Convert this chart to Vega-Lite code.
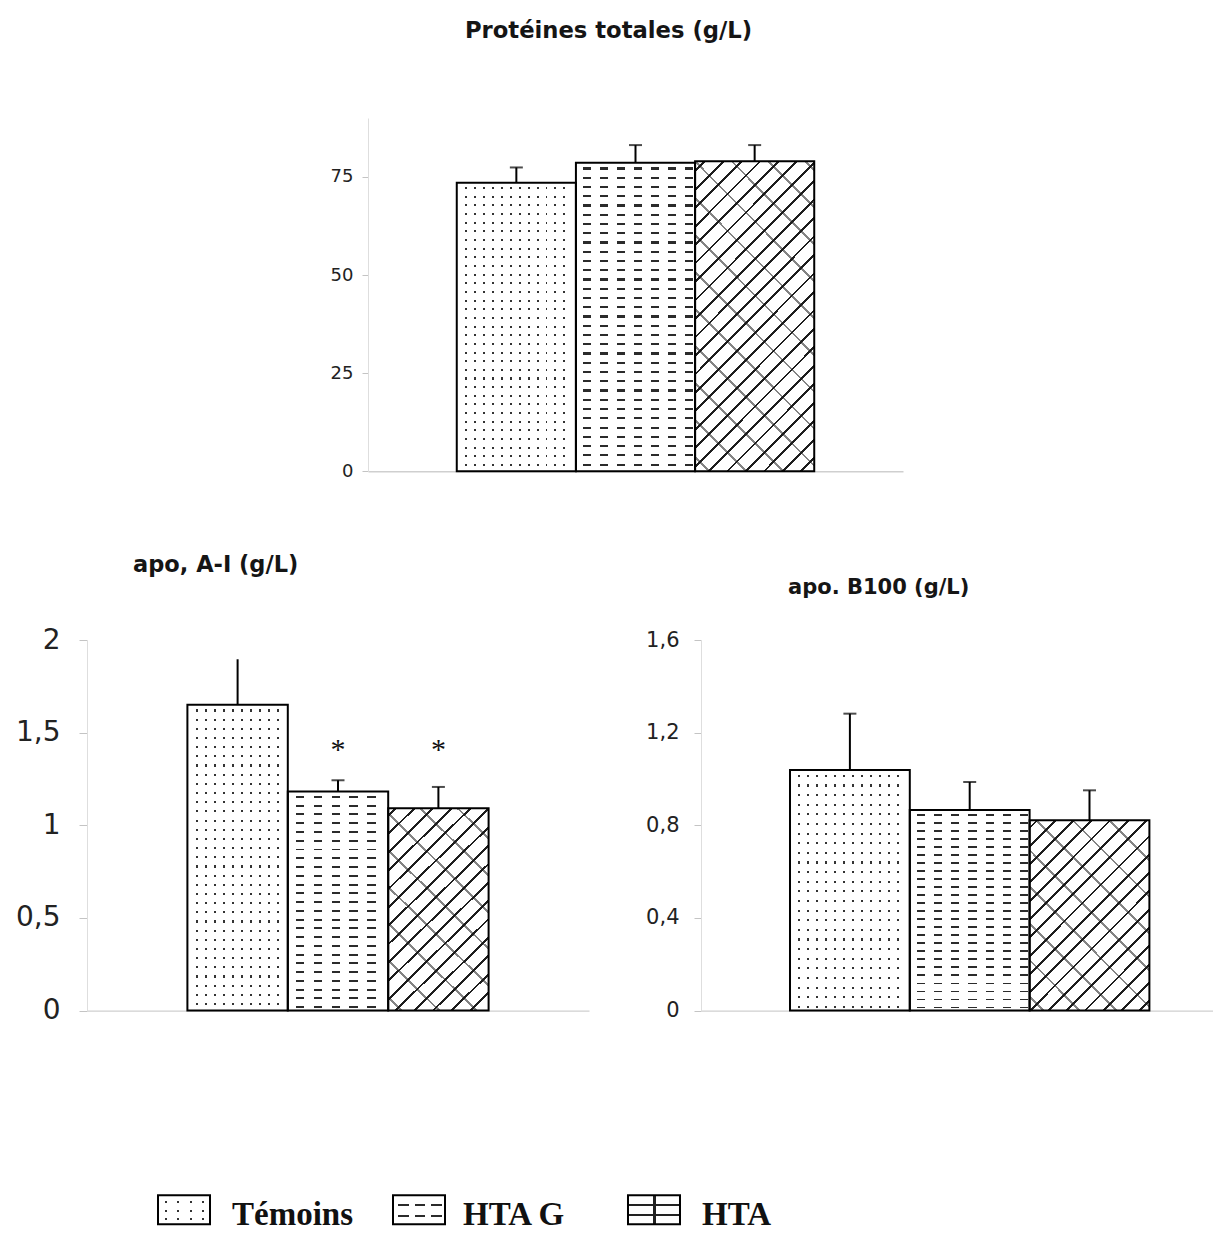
{
"$schema":"https://vega.github.io/schema/vega-lite/v6.json",
"background":"white",
"padding":{"left":15,"top":20,"right":0,"bottom":0},
"config":{"font":"DejaVu Sans","view":{"stroke":null}},
"params":[
{"name":"colT119","value":{"gradient":"linear","x1":0,"y1":0,"x2":1,"y2":0,"stops":[
{"offset":0,"color":"#fff"},
{"offset":0.07,"color":"#fff"},{"offset":0.07,"color":"#333"},{"offset":0.086,"color":"#333"},{"offset":0.086,"color":"#fff"},
{"offset":0.145,"color":"#fff"},{"offset":0.145,"color":"#333"},{"offset":0.161,"color":"#333"},{"offset":0.161,"color":"#fff"},
{"offset":0.22,"color":"#fff"},{"offset":0.22,"color":"#333"},{"offset":0.236,"color":"#333"},{"offset":0.236,"color":"#fff"},
{"offset":0.295,"color":"#fff"},{"offset":0.295,"color":"#333"},{"offset":0.311,"color":"#333"},{"offset":0.311,"color":"#fff"},
{"offset":0.37,"color":"#fff"},{"offset":0.37,"color":"#333"},{"offset":0.386,"color":"#333"},{"offset":0.386,"color":"#fff"},
{"offset":0.445,"color":"#fff"},{"offset":0.445,"color":"#333"},{"offset":0.461,"color":"#333"},{"offset":0.461,"color":"#fff"},
{"offset":0.52,"color":"#fff"},{"offset":0.52,"color":"#333"},{"offset":0.536,"color":"#333"},{"offset":0.536,"color":"#fff"},
{"offset":0.595,"color":"#fff"},{"offset":0.595,"color":"#333"},{"offset":0.611,"color":"#333"},{"offset":0.611,"color":"#fff"},
{"offset":0.67,"color":"#fff"},{"offset":0.67,"color":"#333"},{"offset":0.686,"color":"#333"},{"offset":0.686,"color":"#fff"},
{"offset":0.745,"color":"#fff"},{"offset":0.745,"color":"#333"},{"offset":0.761,"color":"#333"},{"offset":0.761,"color":"#fff"},
{"offset":0.82,"color":"#fff"},{"offset":0.82,"color":"#333"},{"offset":0.836,"color":"#333"},{"offset":0.836,"color":"#fff"},
{"offset":0.895,"color":"#fff"},{"offset":0.895,"color":"#333"},{"offset":0.911,"color":"#333"},{"offset":0.911,"color":"#fff"},
{"offset":1,"color":"#fff"}]}},
{"name":"colT99","value":{"gradient":"linear","x1":0,"y1":0,"x2":1,"y2":0,"stops":[
{"offset":0,"color":"#fff"},
{"offset":0.085,"color":"#fff"},{"offset":0.085,"color":"#333"},{"offset":0.104,"color":"#333"},{"offset":0.104,"color":"#fff"},
{"offset":0.175,"color":"#fff"},{"offset":0.175,"color":"#333"},{"offset":0.194,"color":"#333"},{"offset":0.194,"color":"#fff"},
{"offset":0.265,"color":"#fff"},{"offset":0.265,"color":"#333"},{"offset":0.284,"color":"#333"},{"offset":0.284,"color":"#fff"},
{"offset":0.355,"color":"#fff"},{"offset":0.355,"color":"#333"},{"offset":0.374,"color":"#333"},{"offset":0.374,"color":"#fff"},
{"offset":0.445,"color":"#fff"},{"offset":0.445,"color":"#333"},{"offset":0.464,"color":"#333"},{"offset":0.464,"color":"#fff"},
{"offset":0.535,"color":"#fff"},{"offset":0.535,"color":"#333"},{"offset":0.554,"color":"#333"},{"offset":0.554,"color":"#fff"},
{"offset":0.625,"color":"#fff"},{"offset":0.625,"color":"#333"},{"offset":0.644,"color":"#333"},{"offset":0.644,"color":"#fff"},
{"offset":0.715,"color":"#fff"},{"offset":0.715,"color":"#333"},{"offset":0.734,"color":"#333"},{"offset":0.734,"color":"#fff"},
{"offset":0.805,"color":"#fff"},{"offset":0.805,"color":"#333"},{"offset":0.824,"color":"#333"},{"offset":0.824,"color":"#fff"},
{"offset":0.895,"color":"#fff"},{"offset":0.895,"color":"#333"},{"offset":0.914,"color":"#333"},{"offset":0.914,"color":"#fff"},
{"offset":1,"color":"#fff"}]}},
{"name":"colG119","value":{"gradient":"linear","x1":0,"y1":0,"x2":1,"y2":0,"stops":[
{"offset":0,"color":"#fff"},
{"offset":0.06,"color":"#fff"},{"offset":0.06,"color":"#2b2b2b"},{"offset":0.128,"color":"#2b2b2b"},{"offset":0.128,"color":"#fff"},
{"offset":0.203,"color":"#fff"},{"offset":0.203,"color":"#2b2b2b"},{"offset":0.271,"color":"#2b2b2b"},{"offset":0.271,"color":"#fff"},
{"offset":0.346,"color":"#fff"},{"offset":0.346,"color":"#2b2b2b"},{"offset":0.414,"color":"#2b2b2b"},{"offset":0.414,"color":"#fff"},
{"offset":0.489,"color":"#fff"},{"offset":0.489,"color":"#2b2b2b"},{"offset":0.557,"color":"#2b2b2b"},{"offset":0.557,"color":"#fff"},
{"offset":0.632,"color":"#fff"},{"offset":0.632,"color":"#2b2b2b"},{"offset":0.7,"color":"#2b2b2b"},{"offset":0.7,"color":"#fff"},
{"offset":0.775,"color":"#fff"},{"offset":0.775,"color":"#2b2b2b"},{"offset":0.843,"color":"#2b2b2b"},{"offset":0.843,"color":"#fff"},
{"offset":0.918,"color":"#fff"},{"offset":0.918,"color":"#2b2b2b"},{"offset":0.986,"color":"#2b2b2b"},{"offset":0.986,"color":"#fff"},
{"offset":1,"color":"#fff"}]}},
{"name":"colG99","value":{"gradient":"linear","x1":0,"y1":0,"x2":1,"y2":0,"stops":[
{"offset":0,"color":"#fff"},
{"offset":0.08,"color":"#fff"},{"offset":0.08,"color":"#2b2b2b"},{"offset":0.162,"color":"#2b2b2b"},{"offset":0.162,"color":"#fff"},
{"offset":0.258,"color":"#fff"},{"offset":0.258,"color":"#2b2b2b"},{"offset":0.34,"color":"#2b2b2b"},{"offset":0.34,"color":"#fff"},
{"offset":0.436,"color":"#fff"},{"offset":0.436,"color":"#2b2b2b"},{"offset":0.518,"color":"#2b2b2b"},{"offset":0.518,"color":"#fff"},
{"offset":0.614,"color":"#fff"},{"offset":0.614,"color":"#2b2b2b"},{"offset":0.696,"color":"#2b2b2b"},{"offset":0.696,"color":"#fff"},
{"offset":0.792,"color":"#fff"},{"offset":0.792,"color":"#2b2b2b"},{"offset":0.874,"color":"#2b2b2b"},{"offset":0.874,"color":"#fff"},
{"offset":1,"color":"#fff"}]}},
{"name":"rows30","value":{"gradient":"linear","x1":0,"y1":0,"x2":0,"y2":1,"stops":[
{"offset":0,"color":"#fff"},
{"offset":0.015,"color":"#fff"},{"offset":0.015,"color":"transparent"},{"offset":0.022,"color":"transparent"},{"offset":0.022,"color":"#fff"},
{"offset":0.045,"color":"#fff"},{"offset":0.045,"color":"transparent"},{"offset":0.052,"color":"transparent"},{"offset":0.052,"color":"#fff"},
{"offset":0.075,"color":"#fff"},{"offset":0.075,"color":"transparent"},{"offset":0.082,"color":"transparent"},{"offset":0.082,"color":"#fff"},
{"offset":0.105,"color":"#fff"},{"offset":0.105,"color":"transparent"},{"offset":0.112,"color":"transparent"},{"offset":0.112,"color":"#fff"},
{"offset":0.135,"color":"#fff"},{"offset":0.135,"color":"transparent"},{"offset":0.142,"color":"transparent"},{"offset":0.142,"color":"#fff"},
{"offset":0.165,"color":"#fff"},{"offset":0.165,"color":"transparent"},{"offset":0.172,"color":"transparent"},{"offset":0.172,"color":"#fff"},
{"offset":0.195,"color":"#fff"},{"offset":0.195,"color":"transparent"},{"offset":0.202,"color":"transparent"},{"offset":0.202,"color":"#fff"},
{"offset":0.225,"color":"#fff"},{"offset":0.225,"color":"transparent"},{"offset":0.232,"color":"transparent"},{"offset":0.232,"color":"#fff"},
{"offset":0.255,"color":"#fff"},{"offset":0.255,"color":"transparent"},{"offset":0.262,"color":"transparent"},{"offset":0.262,"color":"#fff"},
{"offset":0.285,"color":"#fff"},{"offset":0.285,"color":"transparent"},{"offset":0.292,"color":"transparent"},{"offset":0.292,"color":"#fff"},
{"offset":0.315,"color":"#fff"},{"offset":0.315,"color":"transparent"},{"offset":0.322,"color":"transparent"},{"offset":0.322,"color":"#fff"},
{"offset":0.345,"color":"#fff"},{"offset":0.345,"color":"transparent"},{"offset":0.352,"color":"transparent"},{"offset":0.352,"color":"#fff"},
{"offset":0.375,"color":"#fff"},{"offset":0.375,"color":"transparent"},{"offset":0.382,"color":"transparent"},{"offset":0.382,"color":"#fff"},
{"offset":0.405,"color":"#fff"},{"offset":0.405,"color":"transparent"},{"offset":0.412,"color":"transparent"},{"offset":0.412,"color":"#fff"},
{"offset":0.435,"color":"#fff"},{"offset":0.435,"color":"transparent"},{"offset":0.442,"color":"transparent"},{"offset":0.442,"color":"#fff"},
{"offset":0.465,"color":"#fff"},{"offset":0.465,"color":"transparent"},{"offset":0.472,"color":"transparent"},{"offset":0.472,"color":"#fff"},
{"offset":0.495,"color":"#fff"},{"offset":0.495,"color":"transparent"},{"offset":0.502,"color":"transparent"},{"offset":0.502,"color":"#fff"},
{"offset":0.525,"color":"#fff"},{"offset":0.525,"color":"transparent"},{"offset":0.532,"color":"transparent"},{"offset":0.532,"color":"#fff"},
{"offset":0.555,"color":"#fff"},{"offset":0.555,"color":"transparent"},{"offset":0.562,"color":"transparent"},{"offset":0.562,"color":"#fff"},
{"offset":0.585,"color":"#fff"},{"offset":0.585,"color":"transparent"},{"offset":0.592,"color":"transparent"},{"offset":0.592,"color":"#fff"},
{"offset":0.615,"color":"#fff"},{"offset":0.615,"color":"transparent"},{"offset":0.622,"color":"transparent"},{"offset":0.622,"color":"#fff"},
{"offset":0.645,"color":"#fff"},{"offset":0.645,"color":"transparent"},{"offset":0.652,"color":"transparent"},{"offset":0.652,"color":"#fff"},
{"offset":0.675,"color":"#fff"},{"offset":0.675,"color":"transparent"},{"offset":0.682,"color":"transparent"},{"offset":0.682,"color":"#fff"},
{"offset":0.705,"color":"#fff"},{"offset":0.705,"color":"transparent"},{"offset":0.712,"color":"transparent"},{"offset":0.712,"color":"#fff"},
{"offset":0.735,"color":"#fff"},{"offset":0.735,"color":"transparent"},{"offset":0.742,"color":"transparent"},{"offset":0.742,"color":"#fff"},
{"offset":0.765,"color":"#fff"},{"offset":0.765,"color":"transparent"},{"offset":0.772,"color":"transparent"},{"offset":0.772,"color":"#fff"},
{"offset":0.795,"color":"#fff"},{"offset":0.795,"color":"transparent"},{"offset":0.802,"color":"transparent"},{"offset":0.802,"color":"#fff"},
{"offset":0.825,"color":"#fff"},{"offset":0.825,"color":"transparent"},{"offset":0.832,"color":"transparent"},{"offset":0.832,"color":"#fff"},
{"offset":0.855,"color":"#fff"},{"offset":0.855,"color":"transparent"},{"offset":0.862,"color":"transparent"},{"offset":0.862,"color":"#fff"},
{"offset":0.885,"color":"#fff"},{"offset":0.885,"color":"transparent"},{"offset":0.892,"color":"transparent"},{"offset":0.892,"color":"#fff"},
{"offset":0.915,"color":"#fff"},{"offset":0.915,"color":"transparent"},{"offset":0.922,"color":"transparent"},{"offset":0.922,"color":"#fff"},
{"offset":0.945,"color":"#fff"},{"offset":0.945,"color":"transparent"},{"offset":0.952,"color":"transparent"},{"offset":0.952,"color":"#fff"},
{"offset":0.975,"color":"#fff"},{"offset":0.975,"color":"transparent"},{"offset":0.982,"color":"transparent"},{"offset":0.982,"color":"#fff"},
{"offset":1,"color":"#fff"}]}},
{"name":"rows40","value":{"gradient":"linear","x1":0,"y1":0,"x2":0,"y2":1,"stops":[
{"offset":0,"color":"#fff"},
{"offset":0.02,"color":"#fff"},{"offset":0.02,"color":"transparent"},{"offset":0.029,"color":"transparent"},{"offset":0.029,"color":"#fff"},
{"offset":0.06,"color":"#fff"},{"offset":0.06,"color":"transparent"},{"offset":0.069,"color":"transparent"},{"offset":0.069,"color":"#fff"},
{"offset":0.1,"color":"#fff"},{"offset":0.1,"color":"transparent"},{"offset":0.109,"color":"transparent"},{"offset":0.109,"color":"#fff"},
{"offset":0.14,"color":"#fff"},{"offset":0.14,"color":"transparent"},{"offset":0.149,"color":"transparent"},{"offset":0.149,"color":"#fff"},
{"offset":0.18,"color":"#fff"},{"offset":0.18,"color":"transparent"},{"offset":0.189,"color":"transparent"},{"offset":0.189,"color":"#fff"},
{"offset":0.22,"color":"#fff"},{"offset":0.22,"color":"transparent"},{"offset":0.229,"color":"transparent"},{"offset":0.229,"color":"#fff"},
{"offset":0.26,"color":"#fff"},{"offset":0.26,"color":"transparent"},{"offset":0.269,"color":"transparent"},{"offset":0.269,"color":"#fff"},
{"offset":0.3,"color":"#fff"},{"offset":0.3,"color":"transparent"},{"offset":0.309,"color":"transparent"},{"offset":0.309,"color":"#fff"},
{"offset":0.34,"color":"#fff"},{"offset":0.34,"color":"transparent"},{"offset":0.349,"color":"transparent"},{"offset":0.349,"color":"#fff"},
{"offset":0.38,"color":"#fff"},{"offset":0.38,"color":"transparent"},{"offset":0.389,"color":"transparent"},{"offset":0.389,"color":"#fff"},
{"offset":0.42,"color":"#fff"},{"offset":0.42,"color":"transparent"},{"offset":0.429,"color":"transparent"},{"offset":0.429,"color":"#fff"},
{"offset":0.46,"color":"#fff"},{"offset":0.46,"color":"transparent"},{"offset":0.469,"color":"transparent"},{"offset":0.469,"color":"#fff"},
{"offset":0.5,"color":"#fff"},{"offset":0.5,"color":"transparent"},{"offset":0.509,"color":"transparent"},{"offset":0.509,"color":"#fff"},
{"offset":0.54,"color":"#fff"},{"offset":0.54,"color":"transparent"},{"offset":0.549,"color":"transparent"},{"offset":0.549,"color":"#fff"},
{"offset":0.58,"color":"#fff"},{"offset":0.58,"color":"transparent"},{"offset":0.589,"color":"transparent"},{"offset":0.589,"color":"#fff"},
{"offset":0.62,"color":"#fff"},{"offset":0.62,"color":"transparent"},{"offset":0.629,"color":"transparent"},{"offset":0.629,"color":"#fff"},
{"offset":0.66,"color":"#fff"},{"offset":0.66,"color":"transparent"},{"offset":0.669,"color":"transparent"},{"offset":0.669,"color":"#fff"},
{"offset":0.7,"color":"#fff"},{"offset":0.7,"color":"transparent"},{"offset":0.709,"color":"transparent"},{"offset":0.709,"color":"#fff"},
{"offset":0.74,"color":"#fff"},{"offset":0.74,"color":"transparent"},{"offset":0.749,"color":"transparent"},{"offset":0.749,"color":"#fff"},
{"offset":0.78,"color":"#fff"},{"offset":0.78,"color":"transparent"},{"offset":0.789,"color":"transparent"},{"offset":0.789,"color":"#fff"},
{"offset":0.82,"color":"#fff"},{"offset":0.82,"color":"transparent"},{"offset":0.829,"color":"transparent"},{"offset":0.829,"color":"#fff"},
{"offset":0.86,"color":"#fff"},{"offset":0.86,"color":"transparent"},{"offset":0.869,"color":"transparent"},{"offset":0.869,"color":"#fff"},
{"offset":0.9,"color":"#fff"},{"offset":0.9,"color":"transparent"},{"offset":0.909,"color":"transparent"},{"offset":0.909,"color":"#fff"},
{"offset":0.94,"color":"#fff"},{"offset":0.94,"color":"transparent"},{"offset":0.949,"color":"transparent"},{"offset":0.949,"color":"#fff"},
{"offset":0.98,"color":"#fff"},{"offset":0.98,"color":"transparent"},{"offset":0.989,"color":"transparent"},{"offset":0.989,"color":"#fff"},
{"offset":1,"color":"#fff"}]}},
{"name":"diagTop","value":{"gradient":"linear","x1":0,"y1":0,"x2":0.465,"y2":1.206,"stops":[
{"offset":0,"color":"#fff"},
{"offset":0.02,"color":"#fff"},{"offset":0.02,"color":"#1e1e1e"},{"offset":0.0265,"color":"#1e1e1e"},{"offset":0.0265,"color":"#fff"},
{"offset":0.063,"color":"#fff"},{"offset":0.063,"color":"#1e1e1e"},{"offset":0.0695,"color":"#1e1e1e"},{"offset":0.0695,"color":"#fff"},
{"offset":0.106,"color":"#fff"},{"offset":0.106,"color":"#1e1e1e"},{"offset":0.1125,"color":"#1e1e1e"},{"offset":0.1125,"color":"#fff"},
{"offset":0.149,"color":"#fff"},{"offset":0.149,"color":"#1e1e1e"},{"offset":0.1555,"color":"#1e1e1e"},{"offset":0.1555,"color":"#fff"},
{"offset":0.192,"color":"#fff"},{"offset":0.192,"color":"#1e1e1e"},{"offset":0.1985,"color":"#1e1e1e"},{"offset":0.1985,"color":"#fff"},
{"offset":0.235,"color":"#fff"},{"offset":0.235,"color":"#1e1e1e"},{"offset":0.2415,"color":"#1e1e1e"},{"offset":0.2415,"color":"#fff"},
{"offset":0.278,"color":"#fff"},{"offset":0.278,"color":"#1e1e1e"},{"offset":0.2845,"color":"#1e1e1e"},{"offset":0.2845,"color":"#fff"},
{"offset":0.321,"color":"#fff"},{"offset":0.321,"color":"#1e1e1e"},{"offset":0.3275,"color":"#1e1e1e"},{"offset":0.3275,"color":"#fff"},
{"offset":0.364,"color":"#fff"},{"offset":0.364,"color":"#1e1e1e"},{"offset":0.3705,"color":"#1e1e1e"},{"offset":0.3705,"color":"#fff"},
{"offset":0.407,"color":"#fff"},{"offset":0.407,"color":"#1e1e1e"},{"offset":0.4135,"color":"#1e1e1e"},{"offset":0.4135,"color":"#fff"},
{"offset":0.45,"color":"#fff"},{"offset":0.45,"color":"#1e1e1e"},{"offset":0.4565,"color":"#1e1e1e"},{"offset":0.4565,"color":"#fff"},
{"offset":0.493,"color":"#fff"},{"offset":0.493,"color":"#1e1e1e"},{"offset":0.4995,"color":"#1e1e1e"},{"offset":0.4995,"color":"#fff"},
{"offset":0.536,"color":"#fff"},{"offset":0.536,"color":"#1e1e1e"},{"offset":0.5425,"color":"#1e1e1e"},{"offset":0.5425,"color":"#fff"},
{"offset":0.579,"color":"#fff"},{"offset":0.579,"color":"#1e1e1e"},{"offset":0.5855,"color":"#1e1e1e"},{"offset":0.5855,"color":"#fff"},
{"offset":0.622,"color":"#fff"},{"offset":0.622,"color":"#1e1e1e"},{"offset":0.6285,"color":"#1e1e1e"},{"offset":0.6285,"color":"#fff"},
{"offset":0.665,"color":"#fff"},{"offset":0.665,"color":"#1e1e1e"},{"offset":0.6715,"color":"#1e1e1e"},{"offset":0.6715,"color":"#fff"},
{"offset":0.708,"color":"#fff"},{"offset":0.708,"color":"#1e1e1e"},{"offset":0.7145,"color":"#1e1e1e"},{"offset":0.7145,"color":"#fff"},
{"offset":0.751,"color":"#fff"},{"offset":0.751,"color":"#1e1e1e"},{"offset":0.7575,"color":"#1e1e1e"},{"offset":0.7575,"color":"#fff"},
{"offset":0.794,"color":"#fff"},{"offset":0.794,"color":"#1e1e1e"},{"offset":0.8005,"color":"#1e1e1e"},{"offset":0.8005,"color":"#fff"},
{"offset":0.837,"color":"#fff"},{"offset":0.837,"color":"#1e1e1e"},{"offset":0.8435,"color":"#1e1e1e"},{"offset":0.8435,"color":"#fff"},
{"offset":0.88,"color":"#fff"},{"offset":0.88,"color":"#1e1e1e"},{"offset":0.8865,"color":"#1e1e1e"},{"offset":0.8865,"color":"#fff"},
{"offset":0.923,"color":"#fff"},{"offset":0.923,"color":"#1e1e1e"},{"offset":0.9295,"color":"#1e1e1e"},{"offset":0.9295,"color":"#fff"},
{"offset":0.966,"color":"#fff"},{"offset":0.966,"color":"#1e1e1e"},{"offset":0.9725,"color":"#1e1e1e"},{"offset":0.9725,"color":"#fff"},
{"offset":1,"color":"#fff"}]}},
{"name":"diagTop2","value":{"gradient":"linear","x1":0,"y1":1,"x2":0.465,"y2":-0.206,"stops":[
{"offset":0,"color":"transparent"},
{"offset":0.03,"color":"transparent"},{"offset":0.03,"color":"rgba(30,30,30,0.55)"},{"offset":0.0365,"color":"rgba(30,30,30,0.55)"},{"offset":0.0365,"color":"transparent"},
{"offset":0.116,"color":"transparent"},{"offset":0.116,"color":"rgba(30,30,30,0.55)"},{"offset":0.1225,"color":"rgba(30,30,30,0.55)"},{"offset":0.1225,"color":"transparent"},
{"offset":0.202,"color":"transparent"},{"offset":0.202,"color":"rgba(30,30,30,0.55)"},{"offset":0.2085,"color":"rgba(30,30,30,0.55)"},{"offset":0.2085,"color":"transparent"},
{"offset":0.288,"color":"transparent"},{"offset":0.288,"color":"rgba(30,30,30,0.55)"},{"offset":0.2945,"color":"rgba(30,30,30,0.55)"},{"offset":0.2945,"color":"transparent"},
{"offset":0.374,"color":"transparent"},{"offset":0.374,"color":"rgba(30,30,30,0.55)"},{"offset":0.3805,"color":"rgba(30,30,30,0.55)"},{"offset":0.3805,"color":"transparent"},
{"offset":0.46,"color":"transparent"},{"offset":0.46,"color":"rgba(30,30,30,0.55)"},{"offset":0.4665,"color":"rgba(30,30,30,0.55)"},{"offset":0.4665,"color":"transparent"},
{"offset":0.546,"color":"transparent"},{"offset":0.546,"color":"rgba(30,30,30,0.55)"},{"offset":0.5525,"color":"rgba(30,30,30,0.55)"},{"offset":0.5525,"color":"transparent"},
{"offset":0.632,"color":"transparent"},{"offset":0.632,"color":"rgba(30,30,30,0.55)"},{"offset":0.6385,"color":"rgba(30,30,30,0.55)"},{"offset":0.6385,"color":"transparent"},
{"offset":0.718,"color":"transparent"},{"offset":0.718,"color":"rgba(30,30,30,0.55)"},{"offset":0.7245,"color":"rgba(30,30,30,0.55)"},{"offset":0.7245,"color":"transparent"},
{"offset":0.804,"color":"transparent"},{"offset":0.804,"color":"rgba(30,30,30,0.55)"},{"offset":0.8105,"color":"rgba(30,30,30,0.55)"},{"offset":0.8105,"color":"transparent"},
{"offset":0.89,"color":"transparent"},{"offset":0.89,"color":"rgba(30,30,30,0.55)"},{"offset":0.8965,"color":"rgba(30,30,30,0.55)"},{"offset":0.8965,"color":"transparent"},
{"offset":0.976,"color":"transparent"},{"offset":0.976,"color":"rgba(30,30,30,0.55)"},{"offset":0.9825,"color":"rgba(30,30,30,0.55)"},{"offset":0.9825,"color":"transparent"},
{"offset":1,"color":"transparent"}]}},
{"name":"diagBL","value":{"gradient":"linear","x1":0,"y1":0,"x2":0.587,"y2":1.202,"stops":[
{"offset":0,"color":"#fff"},
{"offset":0.02,"color":"#fff"},{"offset":0.02,"color":"#1e1e1e"},{"offset":0.0294,"color":"#1e1e1e"},{"offset":0.0294,"color":"#fff"},
{"offset":0.081,"color":"#fff"},{"offset":0.081,"color":"#1e1e1e"},{"offset":0.0904,"color":"#1e1e1e"},{"offset":0.0904,"color":"#fff"},
{"offset":0.142,"color":"#fff"},{"offset":0.142,"color":"#1e1e1e"},{"offset":0.1514,"color":"#1e1e1e"},{"offset":0.1514,"color":"#fff"},
{"offset":0.203,"color":"#fff"},{"offset":0.203,"color":"#1e1e1e"},{"offset":0.2124,"color":"#1e1e1e"},{"offset":0.2124,"color":"#fff"},
{"offset":0.264,"color":"#fff"},{"offset":0.264,"color":"#1e1e1e"},{"offset":0.2734,"color":"#1e1e1e"},{"offset":0.2734,"color":"#fff"},
{"offset":0.325,"color":"#fff"},{"offset":0.325,"color":"#1e1e1e"},{"offset":0.3344,"color":"#1e1e1e"},{"offset":0.3344,"color":"#fff"},
{"offset":0.386,"color":"#fff"},{"offset":0.386,"color":"#1e1e1e"},{"offset":0.3954,"color":"#1e1e1e"},{"offset":0.3954,"color":"#fff"},
{"offset":0.447,"color":"#fff"},{"offset":0.447,"color":"#1e1e1e"},{"offset":0.4564,"color":"#1e1e1e"},{"offset":0.4564,"color":"#fff"},
{"offset":0.508,"color":"#fff"},{"offset":0.508,"color":"#1e1e1e"},{"offset":0.5174,"color":"#1e1e1e"},{"offset":0.5174,"color":"#fff"},
{"offset":0.569,"color":"#fff"},{"offset":0.569,"color":"#1e1e1e"},{"offset":0.5784,"color":"#1e1e1e"},{"offset":0.5784,"color":"#fff"},
{"offset":0.63,"color":"#fff"},{"offset":0.63,"color":"#1e1e1e"},{"offset":0.6394,"color":"#1e1e1e"},{"offset":0.6394,"color":"#fff"},
{"offset":0.691,"color":"#fff"},{"offset":0.691,"color":"#1e1e1e"},{"offset":0.7004,"color":"#1e1e1e"},{"offset":0.7004,"color":"#fff"},
{"offset":0.752,"color":"#fff"},{"offset":0.752,"color":"#1e1e1e"},{"offset":0.7614,"color":"#1e1e1e"},{"offset":0.7614,"color":"#fff"},
{"offset":0.813,"color":"#fff"},{"offset":0.813,"color":"#1e1e1e"},{"offset":0.8224,"color":"#1e1e1e"},{"offset":0.8224,"color":"#fff"},
{"offset":0.874,"color":"#fff"},{"offset":0.874,"color":"#1e1e1e"},{"offset":0.8834,"color":"#1e1e1e"},{"offset":0.8834,"color":"#fff"},
{"offset":0.935,"color":"#fff"},{"offset":0.935,"color":"#1e1e1e"},{"offset":0.9444,"color":"#1e1e1e"},{"offset":0.9444,"color":"#fff"},
{"offset":1,"color":"#fff"}]}},
{"name":"diagBL2","value":{"gradient":"linear","x1":0,"y1":1,"x2":0.587,"y2":-0.202,"stops":[
{"offset":0,"color":"transparent"},
{"offset":0.04,"color":"transparent"},{"offset":0.04,"color":"rgba(30,30,30,0.55)"},{"offset":0.0494,"color":"rgba(30,30,30,0.55)"},{"offset":0.0494,"color":"transparent"},
{"offset":0.162,"color":"transparent"},{"offset":0.162,"color":"rgba(30,30,30,0.55)"},{"offset":0.1714,"color":"rgba(30,30,30,0.55)"},{"offset":0.1714,"color":"transparent"},
{"offset":0.284,"color":"transparent"},{"offset":0.284,"color":"rgba(30,30,30,0.55)"},{"offset":0.2934,"color":"rgba(30,30,30,0.55)"},{"offset":0.2934,"color":"transparent"},
{"offset":0.406,"color":"transparent"},{"offset":0.406,"color":"rgba(30,30,30,0.55)"},{"offset":0.4154,"color":"rgba(30,30,30,0.55)"},{"offset":0.4154,"color":"transparent"},
{"offset":0.528,"color":"transparent"},{"offset":0.528,"color":"rgba(30,30,30,0.55)"},{"offset":0.5374,"color":"rgba(30,30,30,0.55)"},{"offset":0.5374,"color":"transparent"},
{"offset":0.65,"color":"transparent"},{"offset":0.65,"color":"rgba(30,30,30,0.55)"},{"offset":0.6594,"color":"rgba(30,30,30,0.55)"},{"offset":0.6594,"color":"transparent"},
{"offset":0.772,"color":"transparent"},{"offset":0.772,"color":"rgba(30,30,30,0.55)"},{"offset":0.7814,"color":"rgba(30,30,30,0.55)"},{"offset":0.7814,"color":"transparent"},
{"offset":0.894,"color":"transparent"},{"offset":0.894,"color":"rgba(30,30,30,0.55)"},{"offset":0.9034,"color":"rgba(30,30,30,0.55)"},{"offset":0.9034,"color":"transparent"},
{"offset":1,"color":"transparent"}]}},
{"name":"diagBR","value":{"gradient":"linear","x1":0,"y1":0,"x2":0.736,"y2":1.167,"stops":[
{"offset":0,"color":"#fff"},
{"offset":0.02,"color":"#fff"},{"offset":0.02,"color":"#1e1e1e"},{"offset":0.029,"color":"#1e1e1e"},{"offset":0.029,"color":"#fff"},
{"offset":0.079,"color":"#fff"},{"offset":0.079,"color":"#1e1e1e"},{"offset":0.088,"color":"#1e1e1e"},{"offset":0.088,"color":"#fff"},
{"offset":0.138,"color":"#fff"},{"offset":0.138,"color":"#1e1e1e"},{"offset":0.147,"color":"#1e1e1e"},{"offset":0.147,"color":"#fff"},
{"offset":0.197,"color":"#fff"},{"offset":0.197,"color":"#1e1e1e"},{"offset":0.206,"color":"#1e1e1e"},{"offset":0.206,"color":"#fff"},
{"offset":0.256,"color":"#fff"},{"offset":0.256,"color":"#1e1e1e"},{"offset":0.265,"color":"#1e1e1e"},{"offset":0.265,"color":"#fff"},
{"offset":0.315,"color":"#fff"},{"offset":0.315,"color":"#1e1e1e"},{"offset":0.324,"color":"#1e1e1e"},{"offset":0.324,"color":"#fff"},
{"offset":0.374,"color":"#fff"},{"offset":0.374,"color":"#1e1e1e"},{"offset":0.383,"color":"#1e1e1e"},{"offset":0.383,"color":"#fff"},
{"offset":0.433,"color":"#fff"},{"offset":0.433,"color":"#1e1e1e"},{"offset":0.442,"color":"#1e1e1e"},{"offset":0.442,"color":"#fff"},
{"offset":0.492,"color":"#fff"},{"offset":0.492,"color":"#1e1e1e"},{"offset":0.501,"color":"#1e1e1e"},{"offset":0.501,"color":"#fff"},
{"offset":0.551,"color":"#fff"},{"offset":0.551,"color":"#1e1e1e"},{"offset":0.56,"color":"#1e1e1e"},{"offset":0.56,"color":"#fff"},
{"offset":0.61,"color":"#fff"},{"offset":0.61,"color":"#1e1e1e"},{"offset":0.619,"color":"#1e1e1e"},{"offset":0.619,"color":"#fff"},
{"offset":0.669,"color":"#fff"},{"offset":0.669,"color":"#1e1e1e"},{"offset":0.678,"color":"#1e1e1e"},{"offset":0.678,"color":"#fff"},
{"offset":0.728,"color":"#fff"},{"offset":0.728,"color":"#1e1e1e"},{"offset":0.737,"color":"#1e1e1e"},{"offset":0.737,"color":"#fff"},
{"offset":0.787,"color":"#fff"},{"offset":0.787,"color":"#1e1e1e"},{"offset":0.796,"color":"#1e1e1e"},{"offset":0.796,"color":"#fff"},
{"offset":0.846,"color":"#fff"},{"offset":0.846,"color":"#1e1e1e"},{"offset":0.855,"color":"#1e1e1e"},{"offset":0.855,"color":"#fff"},
{"offset":0.905,"color":"#fff"},{"offset":0.905,"color":"#1e1e1e"},{"offset":0.914,"color":"#1e1e1e"},{"offset":0.914,"color":"#fff"},
{"offset":0.964,"color":"#fff"},{"offset":0.964,"color":"#1e1e1e"},{"offset":0.973,"color":"#1e1e1e"},{"offset":0.973,"color":"#fff"},
{"offset":1,"color":"#fff"}]}},
{"name":"diagBR2","value":{"gradient":"linear","x1":0,"y1":1,"x2":0.736,"y2":-0.167,"stops":[
{"offset":0,"color":"transparent"},
{"offset":0.04,"color":"transparent"},{"offset":0.04,"color":"rgba(30,30,30,0.55)"},{"offset":0.049,"color":"rgba(30,30,30,0.55)"},{"offset":0.049,"color":"transparent"},
{"offset":0.158,"color":"transparent"},{"offset":0.158,"color":"rgba(30,30,30,0.55)"},{"offset":0.167,"color":"rgba(30,30,30,0.55)"},{"offset":0.167,"color":"transparent"},
{"offset":0.276,"color":"transparent"},{"offset":0.276,"color":"rgba(30,30,30,0.55)"},{"offset":0.285,"color":"rgba(30,30,30,0.55)"},{"offset":0.285,"color":"transparent"},
{"offset":0.394,"color":"transparent"},{"offset":0.394,"color":"rgba(30,30,30,0.55)"},{"offset":0.403,"color":"rgba(30,30,30,0.55)"},{"offset":0.403,"color":"transparent"},
{"offset":0.512,"color":"transparent"},{"offset":0.512,"color":"rgba(30,30,30,0.55)"},{"offset":0.521,"color":"rgba(30,30,30,0.55)"},{"offset":0.521,"color":"transparent"},
{"offset":0.63,"color":"transparent"},{"offset":0.63,"color":"rgba(30,30,30,0.55)"},{"offset":0.639,"color":"rgba(30,30,30,0.55)"},{"offset":0.639,"color":"transparent"},
{"offset":0.748,"color":"transparent"},{"offset":0.748,"color":"rgba(30,30,30,0.55)"},{"offset":0.757,"color":"rgba(30,30,30,0.55)"},{"offset":0.757,"color":"transparent"},
{"offset":0.866,"color":"transparent"},{"offset":0.866,"color":"rgba(30,30,30,0.55)"},{"offset":0.875,"color":"rgba(30,30,30,0.55)"},{"offset":0.875,"color":"transparent"},
{"offset":1,"color":"transparent"}]}}
],
"spacing":73,
"vconcat":[
{
"spacing":0,
"hconcat":[
{
"width":243,"height":10,
"data":{"values":[{}]},
"mark":{"type":"point","opacity":0},
"encoding":{}
},
{
"width":535,"height":353.25,
"title":{"text":"Protéines totales (g/L)","font":"DejaVu Sans","fontSize":22.7,"fontWeight":"bold","color":"#151515","anchor":"middle","frame":"group","dx":-27,"baseline":"alphabetic","offset":57.3},
"data":{"values":[
{"g":"Témoins","v":73.5,"err":77.4},
{"g":"HTA G","v":78.6,"err":83.1},
{"g":"HTA","v":79.0,"err":83.1}]},
"encoding":{
"x":{"field":"g","type":"nominal","scale":{"domain":["Témoins","HTA G","HTA"],"paddingInner":0,"paddingOuter":0.745},"axis":{"title":null,"labels":false,"ticks":false,"domainColor":"#cfcfcf","domainWidth":1.3}},
"y":{"field":"v","type":"quantitative","scale":{"domain":[0,90],"nice":false},"axis":{"title":null,"values":[0,25,50,75],"grid":false,"domainColor":"#dedede","tickColor":"#c4c4c4","tickSize":6,"labelFont":"DejaVu Sans","labelFontSize":18,"labelColor":"#222","labelPadding":9}}
},
"layer":[
{"transform":[{"filter":"datum.g === 'Témoins'"}],"mark":{"type":"bar","fill":{"expr":"colT119"}}},
{"transform":[{"filter":"datum.g === 'HTA G'"}],"mark":{"type":"bar","fill":{"expr":"colG119"}}},
{"transform":[{"filter":"datum.g === 'HTA'"}],"mark":{"type":"bar","fill":{"expr":"diagTop"}}},
{"transform":[{"filter":"datum.g !== 'HTA'"}],"mark":{"type":"bar","fill":{"expr":"rows30"}}},
{"transform":[{"filter":"datum.g === 'HTA'"}],"mark":{"type":"bar","fill":{"expr":"diagTop2"}}},
{"mark":{"type":"bar","filled":false,"color":"#000","strokeWidth":2}},
{"mark":{"type":"rule","color":"#000","strokeWidth":2},"encoding":{"y2":{"field":"err"}}},
{"mark":{"type":"tick","orient":"horizontal","color":"#000","thickness":2,"size":13},"encoding":{"y":{"field":"err","type":"quantitative"}}}
]
}
]
},
{
"spacing":56,
"hconcat":[
{
"width":502,"height":370.6,
"title":{"text":"apo, A-I (g/L)","font":"DejaVu Sans","fontSize":22.5,"fontWeight":"bold","color":"#151515","anchor":"start","frame":"group","dx":46,"baseline":"alphabetic","offset":31.5},
"data":{"values":[
{"g":"Témoins","v":1.65,"err":1.896,"sig":""},
{"g":"HTA G","v":1.182,"err":1.243,"sig":"*"},
{"g":"HTA","v":1.092,"err":1.207,"sig":"*"}]},
"encoding":{
"x":{"field":"g","type":"nominal","scale":{"domain":["Témoins","HTA G","HTA"],"paddingInner":0,"paddingOuter":1.04},"axis":{"title":null,"labels":false,"ticks":false,"domainColor":"#cfcfcf","domainWidth":1.3}},
"y":{"field":"v","type":"quantitative","scale":{"domain":[0,2],"nice":false},"axis":{"title":null,"values":[0,0.5,1,1.5,2],"labelExpr":"replace(format(datum.value, '.1~f'), '.', ',')","grid":false,"domainColor":"#dedede","tickColor":"#c4c4c4","tickSize":8,"labelFont":"DejaVu Sans","labelFontSize":28,"labelColor":"#222","labelPadding":19}}
},
"layer":[
{"transform":[{"filter":"datum.g === 'Témoins'"}],"mark":{"type":"bar","fill":{"expr":"colT99"}}},
{"transform":[{"filter":"datum.g === 'HTA G'"}],"mark":{"type":"bar","fill":{"expr":"colG99"}}},
{"transform":[{"filter":"datum.g === 'HTA'"}],"mark":{"type":"bar","fill":{"expr":"diagBL"}}},
{"transform":[{"filter":"datum.g === 'Témoins'"}],"mark":{"type":"bar","fill":{"expr":"rows30"}}},
{"transform":[{"filter":"datum.g === 'HTA G'"}],"mark":{"type":"bar","fill":{"expr":"rows40"}}},
{"transform":[{"filter":"datum.g === 'HTA'"}],"mark":{"type":"bar","fill":{"expr":"diagBL2"}}},
{"mark":{"type":"bar","filled":false,"color":"#000","strokeWidth":2}},
{"mark":{"type":"rule","color":"#000","strokeWidth":2},"encoding":{"y2":{"field":"err"}}},
{"transform":[{"filter":"datum.g !== 'Témoins'"}],"mark":{"type":"tick","orient":"horizontal","color":"#000","thickness":2,"size":13},"encoding":{"y":{"field":"err","type":"quantitative"}}},
{"mark":{"type":"text","font":"Liberation Serif","fontSize":30,"baseline":"alphabetic","color":"#111"},"encoding":{"y":{"datum":1.36},"text":{"field":"sig"}}}
]
},
{
"width":512,"height":370.6,
"title":{"text":"apo. B100 (g/L)","font":"DejaVu Sans","fontSize":21,"fontWeight":"bold","color":"#151515","anchor":"start","frame":"group","dx":87,"baseline":"alphabetic","offset":14},
"data":{"values":[
{"g":"Témoins","v":1.039,"err":1.282},
{"g":"HTA G","v":0.866,"err":0.987},
{"g":"HTA","v":0.822,"err":0.951}]},
"encoding":{
"x":{"field":"g","type":"nominal","scale":{"domain":["Témoins","HTA G","HTA"],"paddingInner":0,"paddingOuter":0.6369,"align":0.5832},"axis":{"title":null,"labels":false,"ticks":false,"domainColor":"#cfcfcf","domainWidth":1.3}},
"y":{"field":"v","type":"quantitative","scale":{"domain":[0,1.6],"nice":false},"axis":{"title":null,"values":[0,0.4,0.8,1.2,1.6],"labelExpr":"replace(format(datum.value, '.1~f'), '.', ',')","grid":false,"domainColor":"#dedede","tickColor":"#c4c4c4","tickSize":7,"labelFont":"DejaVu Sans","labelFontSize":21,"labelColor":"#222","labelPadding":15}}
},
"layer":[
{"transform":[{"filter":"datum.g === 'Témoins'"}],"mark":{"type":"bar","fill":{"expr":"colT119"}}},
{"transform":[{"filter":"datum.g === 'HTA G'"}],"mark":{"type":"bar","fill":{"expr":"colG119"}}},
{"transform":[{"filter":"datum.g === 'HTA'"}],"mark":{"type":"bar","fill":{"expr":"diagBR"}}},
{"transform":[{"filter":"datum.g !== 'HTA'"}],"mark":{"type":"bar","fill":{"expr":"rows40"}}},
{"transform":[{"filter":"datum.g === 'HTA'"}],"mark":{"type":"bar","fill":{"expr":"diagBR2"}}},
{"mark":{"type":"bar","filled":false,"color":"#000","strokeWidth":2}},
{"mark":{"type":"rule","color":"#000","strokeWidth":2},"encoding":{"y2":{"field":"err"}}},
{"mark":{"type":"tick","orient":"horizontal","color":"#000","thickness":2,"size":13},"encoding":{"y":{"field":"err","type":"quantitative"}}}
]
}
]
},
{
"width":664,"height":126.3,
"data":{"values":[{"g":"Témoins"},{"g":"HTA G"},{"g":"HTA"}]},
"encoding":{
"x":{"field":"g","type":"nominal","scale":{"type":"point","domain":["Témoins","HTA G","HTA"],"padding":0.4128,"align":0.5},"axis":null},
"y":{"datum":0,"type":"quantitative","scale":{"domain":[0,4.3552],"nice":false,"zero":false},"axis":null}
},
"layer":[
{"transform":[{"filter":"datum.g === 'Témoins'"}],"mark":{"type":"bar","width":52,"fill":{"gradient":"linear","x1":0,"y1":0,"x2":1,"y2":0,"stops":[{"offset":0,"color":"#fff"},{"offset":0.13,"color":"#fff"},{"offset":0.13,"color":"#333"},{"offset":0.17,"color":"#333"},{"offset":0.17,"color":"#fff"},{"offset":0.37,"color":"#fff"},{"offset":0.37,"color":"#333"},{"offset":0.41,"color":"#333"},{"offset":0.41,"color":"#fff"},{"offset":0.61,"color":"#fff"},{"offset":0.61,"color":"#333"},{"offset":0.65,"color":"#333"},{"offset":0.65,"color":"#fff"},{"offset":0.85,"color":"#fff"},{"offset":0.85,"color":"#333"},{"offset":0.89,"color":"#333"},{"offset":0.89,"color":"#fff"},{"offset":1,"color":"#fff"}]}},"encoding":{"y2":{"datum":1}}},
{"transform":[{"filter":"datum.g === 'HTA G'"}],"mark":{"type":"bar","width":52,"fill":{"gradient":"linear","x1":0,"y1":0,"x2":1,"y2":0,"stops":[{"offset":0,"color":"#fff"},{"offset":0.1,"color":"#fff"},{"offset":0.1,"color":"#2b2b2b"},{"offset":0.3,"color":"#2b2b2b"},{"offset":0.3,"color":"#fff"},{"offset":0.42,"color":"#fff"},{"offset":0.42,"color":"#2b2b2b"},{"offset":0.62,"color":"#2b2b2b"},{"offset":0.62,"color":"#fff"},{"offset":0.74,"color":"#fff"},{"offset":0.74,"color":"#2b2b2b"},{"offset":0.94,"color":"#2b2b2b"},{"offset":0.94,"color":"#fff"},{"offset":1,"color":"#fff"}]}},"encoding":{"y2":{"datum":1}}},
{"transform":[{"filter":"datum.g === 'HTA'"}],"mark":{"type":"bar","width":52,"fill":{"gradient":"linear","x1":0,"y1":0,"x2":0,"y2":1,"stops":[{"offset":0,"color":"#fff"},{"offset":0.31,"color":"#fff"},{"offset":0.31,"color":"#222"},{"offset":0.38,"color":"#222"},{"offset":0.38,"color":"#fff"},{"offset":0.64,"color":"#fff"},{"offset":0.64,"color":"#222"},{"offset":0.71,"color":"#222"},{"offset":0.71,"color":"#fff"},{"offset":1,"color":"#fff"}]}},"encoding":{"y2":{"datum":1}}},
{"transform":[{"filter":"datum.g === 'Témoins'"}],"mark":{"type":"bar","width":52,"fill":{"gradient":"linear","x1":0,"y1":0,"x2":0,"y2":1,"stops":[{"offset":0,"color":"#fff"},{"offset":0.2,"color":"#fff"},{"offset":0.2,"color":"transparent"},{"offset":0.27,"color":"transparent"},{"offset":0.27,"color":"#fff"},{"offset":0.5,"color":"#fff"},{"offset":0.5,"color":"transparent"},{"offset":0.57,"color":"transparent"},{"offset":0.57,"color":"#fff"},{"offset":0.78,"color":"#fff"},{"offset":0.78,"color":"transparent"},{"offset":0.85,"color":"transparent"},{"offset":0.85,"color":"#fff"},{"offset":1,"color":"#fff"}]}},"encoding":{"y2":{"datum":1}}},
{"transform":[{"filter":"datum.g === 'HTA G'"}],"mark":{"type":"bar","width":52,"fill":{"gradient":"linear","x1":0,"y1":0,"x2":0,"y2":1,"stops":[{"offset":0,"color":"#fff"},{"offset":0.3,"color":"#fff"},{"offset":0.3,"color":"transparent"},{"offset":0.38,"color":"transparent"},{"offset":0.38,"color":"#fff"},{"offset":0.68,"color":"#fff"},{"offset":0.68,"color":"transparent"},{"offset":0.76,"color":"transparent"},{"offset":0.76,"color":"#fff"},{"offset":1,"color":"#fff"}]}},"encoding":{"y2":{"datum":1}}},
{"transform":[{"filter":"datum.g === 'HTA'"}],"mark":{"type":"bar","width":52,"fill":{"gradient":"linear","x1":0,"y1":0,"x2":1,"y2":0,"stops":[{"offset":0,"color":"transparent"},{"offset":0.48,"color":"transparent"},{"offset":0.48,"color":"#222"},{"offset":0.53,"color":"#222"},{"offset":0.53,"color":"transparent"},{"offset":1,"color":"transparent"}]}},"encoding":{"y2":{"datum":1}}},
{"mark":{"type":"bar","width":52,"filled":false,"color":"#000","strokeWidth":2},"encoding":{"y2":{"datum":1}}},
{"transform":[{"filter":"datum.g !== 'HTA G'"}],"mark":{"type":"text","align":"left","baseline":"alphabetic","dx":48,"dy":1,"font":"Liberation Serif","fontSize":33,"fontWeight":"bold","color":"#111"},"encoding":{"text":{"field":"g"}}},
{"transform":[{"filter":"datum.g === 'HTA G'"}],"mark":{"type":"text","align":"left","baseline":"alphabetic","dx":44,"dy":1,"font":"Liberation Serif","fontSize":33,"fontWeight":"bold","color":"#111"},"encoding":{"text":{"field":"g"}}}
]
}
]
}
